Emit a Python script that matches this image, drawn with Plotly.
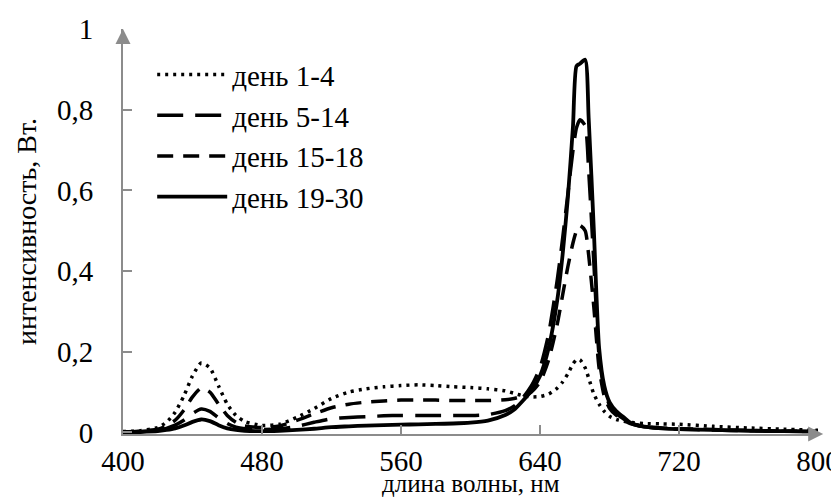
import plotly.graph_objects as go

wavelength = [400, 410, 420, 425, 430, 435, 440, 445, 450, 455,
              460, 465, 470, 480, 490, 500, 510, 520, 530, 540,
              550, 560, 570, 580, 590, 600, 610, 620, 625, 630,
              635, 640, 645, 650, 653, 656, 659, 661, 663, 666,
              668, 671, 674, 677, 680, 684, 688, 692, 700, 710,
              720, 740, 760, 780, 800]

day_1_4 = [0.002, 0.004, 0.012, 0.025, 0.050, 0.090, 0.140, 0.172, 0.160, 0.115,
           0.070, 0.042, 0.027, 0.017, 0.020, 0.037, 0.059, 0.084, 0.100, 0.108,
           0.113, 0.116, 0.118, 0.116, 0.113, 0.111, 0.108, 0.103, 0.097, 0.091,
           0.088, 0.089, 0.095, 0.110, 0.125, 0.145, 0.170, 0.180, 0.180, 0.160,
           0.135, 0.095, 0.070, 0.052, 0.040, 0.032, 0.028, 0.025, 0.022, 0.021,
           0.020, 0.015, 0.011, 0.008, 0.005]

day_5_14 = [0.001, 0.002, 0.005, 0.010, 0.018, 0.030, 0.047, 0.058, 0.052, 0.036,
            0.022, 0.013, 0.009, 0.007, 0.009, 0.015, 0.025, 0.034, 0.037, 0.039,
            0.041, 0.042, 0.042, 0.042, 0.042, 0.042, 0.044, 0.054, 0.065, 0.085,
            0.115, 0.160, 0.245, 0.380, 0.480, 0.590, 0.700, 0.755, 0.775, 0.760,
            0.650, 0.420, 0.190, 0.105, 0.068, 0.046, 0.034, 0.023, 0.014, 0.010,
            0.008, 0.006, 0.004, 0.003, 0.002]

day_15_18 = [0.001, 0.003, 0.008, 0.016, 0.030, 0.055, 0.088, 0.110, 0.100, 0.070,
             0.042, 0.025, 0.016, 0.012, 0.016, 0.030, 0.046, 0.061, 0.070, 0.075,
             0.078, 0.080, 0.080, 0.080, 0.079, 0.079, 0.079, 0.081, 0.084, 0.090,
             0.100, 0.125, 0.180, 0.270, 0.340, 0.410, 0.470, 0.500, 0.513, 0.500,
             0.440, 0.310, 0.160, 0.090, 0.060, 0.042, 0.031, 0.022, 0.014, 0.011,
             0.009, 0.007, 0.005, 0.003, 0.002]

day_19_30 = [0.000, 0.001, 0.003, 0.006, 0.010, 0.017, 0.026, 0.032, 0.028, 0.018,
             0.010, 0.006, 0.004, 0.003, 0.004, 0.006, 0.009, 0.013, 0.015, 0.017,
             0.018, 0.019, 0.020, 0.021, 0.022, 0.024, 0.029, 0.043, 0.056, 0.078,
             0.103, 0.140, 0.210, 0.330, 0.440, 0.580, 0.760, 0.908, 0.914, 0.924,
             0.780, 0.500, 0.210, 0.115, 0.075, 0.052, 0.038, 0.024, 0.014, 0.010,
             0.008, 0.006, 0.004, 0.003, 0.002]

series_names = ["день 1-4", "день 5-14", "день 15-18", "день 19-30"]
series_values = [day_1_4, day_5_14, day_15_18, day_19_30]
series_dash = ["3px,5px", "26px,12px", "16px,10px", "solid"]
series_width = [3.5, 3.5, 3.5, 3.8]

x_ticks = [400, 480, 560, 640, 720, 800]
y_ticks = [0, 0.2, 0.4, 0.6, 0.8, 1]
y_tick_text = ["0", "0,2", "0,4", "0,6", "0,8", "1"]
x_title = "длина волны, нм"
y_title = "интенсивность, Вт."

FONT = "Liberation Serif"
AXIS = "#8c8c8c"

fig = go.Figure()
for name, vals, dash, w in zip(series_names, series_values, series_dash, series_width):
    fig.add_trace(go.Scatter(
        x=wavelength, y=vals, name=name, mode="lines",
        line=dict(color="black", width=w, dash=dash, shape="spline", smoothing=0.6),
    ))

fig.update_layout(
    template="none",
    width=839, height=497,
    margin=dict(l=115, r=29, t=21, b=71, autoexpand=False),
    paper_bgcolor="white", plot_bgcolor="white",
    font=dict(family=FONT, color="black"),
    showlegend=True,
    legend=dict(x=0.042, y=0.95, xanchor="left", yanchor="top",
                bgcolor="rgba(0,0,0,0)", borderwidth=0,
                font=dict(size=29, family=FONT, color="black"),
                itemwidth=70, tracegroupgap=0),
    xaxis=dict(range=[400, 800], tickvals=x_ticks, ticktext=[str(v) for v in x_ticks],
               showgrid=False, zeroline=False, showline=True, linecolor=AXIS, linewidth=2,
               ticks="inside", ticklen=9, tickwidth=1.5, tickcolor=AXIS, automargin=False,
               tickfont=dict(size=29, family=FONT, color="black"), ticklabelstandoff=0),
    yaxis=dict(range=[-0.004, 1], tickvals=y_ticks, ticktext=y_tick_text,
               showgrid=False, zeroline=False, showline=True, linecolor=AXIS, linewidth=2,
               ticks="inside", ticklen=9, tickwidth=1.5, tickcolor=AXIS, automargin=False,
               tickfont=dict(size=29, family=FONT, color="black"), ticklabelstandoff=22,
               title=dict(text=y_title, font=dict(size=28, family=FONT, color="black"), standoff=12)),
)

# x-axis title placed just above the bottom edge of the figure
fig.add_annotation(text=x_title, x=0.5, y=-71 / 405, xref="paper", yref="paper",
                   xanchor="center", yanchor="bottom", yshift=7, showarrow=False, borderpad=0,
                   font=dict(size=25, family=FONT, color="black"))

# axis arrowheads
fig.add_annotation(x=803, y=-0.004, ax=790, ay=-0.004, xref="x", yref="y", axref="x", ayref="y",
                   showarrow=True, arrowhead=2, arrowsize=1.5, arrowwidth=2, arrowcolor=AXIS, text="")
fig.add_annotation(x=400, y=1.0, ax=400, ay=0.97, xref="x", yref="y", axref="x", ayref="y",
                   showarrow=True, arrowhead=2, arrowsize=1.5, arrowwidth=2, arrowcolor=AXIS, text="")

fig.write_html("out.html")
